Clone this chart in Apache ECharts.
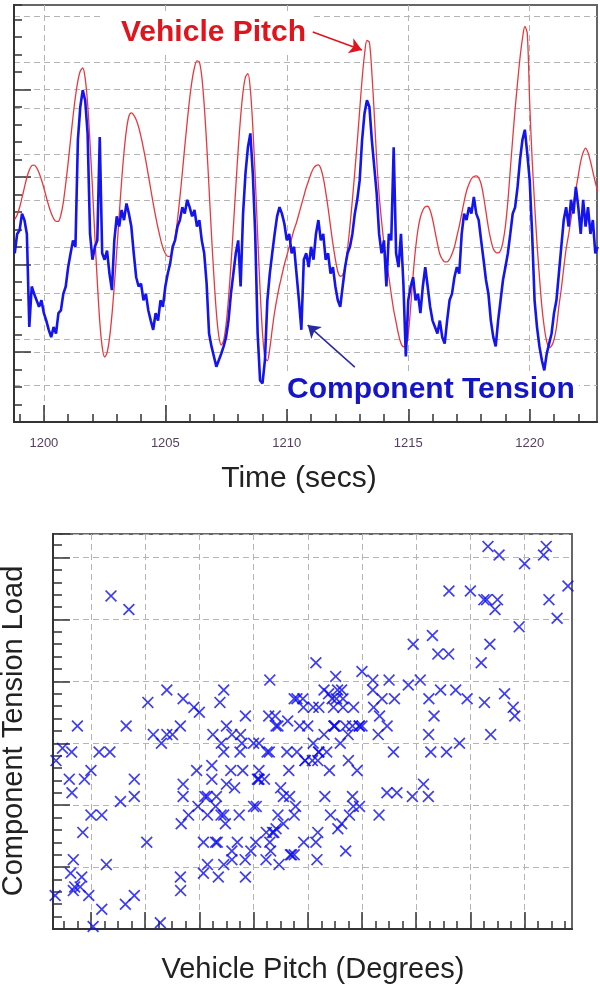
<!DOCTYPE html>
<html>
<head>
<meta charset="utf-8">
<title>Vehicle Pitch / Component Tension</title>
<script src="https://cdn.jsdelivr.net/npm/echarts@6/dist/echarts.min.js"></script>
<style>
    html, body { margin: 0; padding: 0; background: #fff; }
    #chart { width: 600px; height: 989px; }
</style>
</head>
<body>
<div id="chart"></div>
<script>
// samples start at 1198.8 s, one every 0.1 s
var timeStart = 1198.8;
var timeStep = 0.1;

// vehicle pitch (red trace)
var pitch = [
    7.58, 7.83, 8.26, 8.82, 9.41, 9.97, 10.40, 10.65, 10.68, 10.54,      // 1198.8
    10.25, 9.84, 9.37, 8.85, 8.36, 7.94, 7.63, 7.46, 7.47, 7.83,         // 1199.8
    8.55, 9.63, 10.82, 12.16, 13.46, 14.60, 15.50, 16.06, 16.23, 15.65,  // 1200.8
    14.21, 11.93, 9.37, 6.57, 4.01, 1.74, 0.29, -0.29, -0.05, 0.76,      // 1201.8
    2.09, 3.80, 5.76, 7.80, 9.77, 11.43, 12.71, 13.47, 13.66, 13.54,     // 1202.8
    13.27, 12.86, 12.29, 11.63, 10.91, 10.11, 9.30, 8.50, 7.75, 7.08,    // 1203.8
    6.47, 5.96, 5.63, 5.46, 5.46, 5.81, 6.52, 7.56, 8.84, 10.25,         // 1204.8
    11.74, 13.15, 14.46, 15.52, 16.26, 16.64, 16.58, 15.75, 14.12, 11.92, // 1205.8
    9.34, 6.70, 4.31, 2.27, 0.92, 0.40, 0.66, 1.57, 3.06, 4.95,          // 1206.8
    7.14, 9.41, 11.60, 13.45, 14.88, 15.72, 15.91, 15.00, 12.89, 10.00,  // 1207.8
    6.69, 3.56, 1.08, -0.32, -0.5, 0.2, 1.3, 2.3, 3.1, 3.8,              // 1208.8
    4.4, 5.0, 5.5, 6.0, 6.5, 7.0, 7.4, 7.9, 8.4, 8.9,                    // 1209.8
    9.4, 9.8, 10.2, 10.5, 10.65, 10.69, 10.49, 9.97, 9.17, 8.23,         // 1210.8
    7.18, 6.16, 5.29, 4.60, 4.33, 4.4, 4.9, 5.9, 7.2, 8.7,               // 1211.8
    10.3, 12.0, 13.8, 15.6, 17.0, 17.8, 17.7, 16.0, 13.6, 11.0,          // 1212.8
    9.0, 7.5, 6.2, 5.2, 4.3, 3.3, 2.4, 1.7, 1.0, 0.5,                    // 1213.8
    0.3, 0.35, 1.0, 2.6, 4.4, 5.9, 7.0, 7.7, 8.1, 8.3,                   // 1214.8
    8.33, 8.1, 7.6, 6.9, 6.2, 5.6, 5.3, 5.15, 5.15, 5.3,                 // 1215.8
    5.6, 6.0, 6.6, 7.2, 7.9, 8.6, 9.2, 9.6, 9.9, 10.03,                  // 1216.8
    10.06, 9.95, 9.6, 8.9, 8.0, 7.1, 6.4, 5.9, 5.7, 5.66,                // 1217.8
    5.8, 6.3, 7.2, 8.6, 10.4, 12.2, 13.9, 15.4, 16.8, 17.9,              // 1218.8
    18.6, 18.2, 14.2, 11.0, 8.5, 6.2, 4.3, 2.6, 1.4, 0.6,                // 1219.8
    0.25, 0.35, 0.7, 1.4, 2.6, 3.6, 4.8, 5.9, 6.7, 7.6,                  // 1220.8
    8.5, 9.3, 10.1, 10.9, 11.4, 11.65, 11.4, 10.9, 10.3, 9.7,            // 1221.8
    9.2                                                                  // 1222.8
];

// component tension (blue trace)
var tension = [
    14.3, 16.4, 16.8, 18.6, 17.9, 16.4, 6.3, 10.7, 9.9, 9.2,             // 1198.8
    8.5, 9.2, 7.8, 7.0, 6.0, 5.2, 6.3, 5.6, 7.8, 8.1,                    // 1199.8
    9.9, 10.7, 12.8, 14.3, 15.7, 15.0, 26.6, 30.2, 32.0, 30.9,           // 1200.8
    27.3, 16.4, 13.6, 15.0, 15.7, 26.9, 14.3, 13.6, 14.6, 12.1,          // 1201.8
    10.3, 15.7, 18.3, 17.2, 19.0, 17.9, 19.7, 18.6, 17.2, 14.3,          // 1202.8
    11.7, 10.7, 11.0, 9.2, 9.9, 8.1, 7.0, 6.0, 7.8, 7.0,                 // 1203.8
    9.2, 8.5, 10.7, 12.1, 13.2, 15.0, 15.7, 17.2, 17.9, 19.3,            // 1204.8
    18.6, 20.1, 19.3, 18.3, 19.0, 17.2, 17.9, 15.7, 14.3, 11.0,          // 1205.8
    5.6, 4.2, 3.1, 2.0, 2.7, 3.4, 4.2, 5.2, 7.0, 9.9,                    // 1206.8
    12.1, 14.3, 15.7, 10.7, 18.6, 23.0, 25.8, 27.3, 23.0, 16.4,          // 1207.8
    5.6, 0.5, 0.2, 2.7, 9.2, 12.1, 14.3, 16.4, 18.3, 19.3,               // 1208.8
    18.6, 17.5, 15.7, 16.4, 14.3, 15.0, 12.1, 9.2, 6.0, 13.6,            // 1209.8
    14.3, 12.8, 15.0, 13.6, 16.4, 17.9, 15.7, 16.4, 13.6, 14.3,          // 1210.8
    12.1, 12.8, 10.7, 9.2, 8.5, 10.7, 12.8, 14.3, 15.0, 16.4,            // 1211.8
    18.6, 20.1, 22.2, 26.6, 29.5, 30.9, 30.2, 26.6, 23.7, 20.8,          // 1212.8
    16.4, 14.3, 15.7, 10.7, 16.4, 15.7, 25.8, 14.3, 12.8, 16.4,          // 1213.8
    11.0, 3.1, 9.2, 10.7, 11.7, 9.2, 9.9, 7.8, 10.7, 12.8,               // 1214.8
    10.7, 8.5, 7.0, 6.3, 5.6, 7.0, 5.2, 4.5, 7.0, 9.2,                   // 1215.8
    9.9, 11.7, 12.8, 12.1, 16.4, 18.6, 17.9, 19.3, 18.6, 20.4,           // 1216.8
    18.6, 17.9, 15.7, 13.6, 11.4, 9.9, 7.0, 5.2, 4.2, 7.0,               // 1217.8
    9.2, 11.4, 12.8, 14.3, 16.4, 18.6, 19.3, 21.5, 24.4, 26.6,           // 1218.8
    27.7, 25.1, 22.2, 16.4, 9.2, 6.3, 4.2, 2.7, 1.6, 3.4,                // 1219.8
    4.5, 5.6, 7.8, 9.2, 12.1, 15.0, 17.9, 19.3, 17.2, 20.1,              // 1220.8
    18.6, 21.5, 19.3, 16.4, 20.1, 17.2, 19.3, 16.4, 17.9, 14.3,          // 1221.8
    15.0                                                                 // 1222.8
];

// tick values
var timeMajorTicks = [1200, 1205, 1210, 1215, 1220];
var timeMinorTicks = [1199, 1200, 1201, 1202, 1203, 1204, 1205, 1206, 1207, 1208, 1209, 1210,
    1211, 1212, 1213, 1214, 1215, 1216, 1217, 1218, 1219, 1220, 1221, 1222];
var pitchMajorTicks = [0, 5, 10, 15];
var tensionGridTicks = [0, 5, 10, 15, 20, 25, 30, 35, 40];
var scatterPitchMajor = [1, 3, 5, 7, 9, 11, 13, 15, 17];
var scatterPitchMinor = [0, 0.5, 1, 1.5, 2, 2.5, 3, 3.5, 4, 4.5, 5, 5.5, 6, 6.5, 7, 7.5, 8, 8.5, 9,
    9.5, 10, 10.5, 11, 11.5, 12, 12.5, 13, 13.5, 14, 14.5, 15, 15.5, 16, 16.5, 17, 17.5, 18, 18.5];

var pitchLine = [], tensionLine = [], pitchVsTension = [];
for (var i = 0; i < pitch.length; i++) {
    var t = +(timeStart + i * timeStep).toFixed(1);
    pitchLine.push([t, pitch[i]]);
    tensionLine.push([t, tension[i]]);
    pitchVsTension.push([pitch[i], tension[i]]);
}

var font = '"Liberation Sans", Arial, sans-serif';
var dashed = { color: '#b4b4b4', width: 1, type: [6, 4] };
var axisDark = { color: '#333', width: 2 };
var tickDark = { color: '#333', width: 1.5 };
// filled "x" marker, arms about 1/6 of the size
var crossMark = 'path://M1.2,0L6,4.8L10.8,0L12,1.2L7.2,6L12,10.8L10.8,12L6,7.2L1.2,12L0,10.8L4.8,6L0,1.2Z';

// helper for the extra axes that only carry minor ticks
function minorAxis(gridIndex, pos, min, max, len, extra) {
    var a = {
        gridIndex: gridIndex, type: 'value', min: min, max: max, position: pos,
        axisLine: { show: false, onZero: false },
        axisTick: { show: true, inside: true, length: len, lineStyle: tickDark },
        axisLabel: { show: false },
        splitLine: { show: false }
    };
    if (extra.interval) a.interval = extra.interval;
    if (extra.ticks) a.axisTick.customValues = extra.ticks;
    return a;
}

var myChart = echarts.init(document.getElementById('chart'));

var option = {
    animation: false,
    backgroundColor: '#fff',
    grid: [
        { left: 14, right: 3, top: 5, height: 417, show: true, borderColor: '#666', borderWidth: 2, outerBoundsMode: 'none' },
        { left: 53, right: 28, top: 534, height: 395, show: true, borderColor: '#666', borderWidth: 2, outerBoundsMode: 'none' }
    ],
    xAxis: [
        {
            gridIndex: 0, type: 'value', min: 1198.77, max: 1222.77, position: 'bottom',
            axisLine: { show: true, onZero: false, lineStyle: axisDark },
            axisTick: { show: true, inside: true, length: 17, customValues: timeMajorTicks, lineStyle: tickDark },
            axisLabel: {
                show: true, customValues: timeMajorTicks, margin: 15,
                color: '#543f5c', fontSize: 13, fontFamily: font,
                formatter: function (v) { return String(v); }
            },
            splitLine: { show: true, lineStyle: dashed }
        },
        minorAxis(0, 'bottom', 1198.77, 1222.77, 8, { ticks: timeMinorTicks }),
        {
            gridIndex: 1, type: 'value', min: -0.4, max: 18.75, position: 'bottom',
            axisLine: { show: true, onZero: false, lineStyle: axisDark },
            axisTick: { show: true, inside: true, length: 17, customValues: scatterPitchMajor, lineStyle: tickDark },
            axisLabel: { show: false },
            splitLine: { show: true, lineStyle: dashed }
        },
        minorAxis(1, 'bottom', -0.4, 18.75, 8, { ticks: scatterPitchMinor })
    ],
    yAxis: [
        {
            gridIndex: 0, type: 'value', min: -4, max: 19.83, position: 'left',
            axisLine: { show: true, onZero: false, lineStyle: axisDark },
            axisTick: { show: true, inside: true, length: 17, customValues: pitchMajorTicks, lineStyle: tickDark },
            axisLabel: { show: false },
            splitLine: { show: true, lineStyle: dashed }
        },
        minorAxis(0, 'left', -4, 19.83, 8, { interval: 1 }),
        {
            gridIndex: 0, type: 'value', min: -4, max: 41.23, position: 'right',
            axisLine: { show: false, onZero: false },
            axisTick: { show: false, customValues: tensionGridTicks },
            axisLabel: { show: false },
            splitLine: { show: true, lineStyle: dashed }
        },
        {
            gridIndex: 1, type: 'value', min: 0, max: 31.9, interval: 5, position: 'left',
            axisLine: { show: true, onZero: false, lineStyle: axisDark },
            axisTick: { show: true, inside: true, length: 17, lineStyle: tickDark },
            axisLabel: { show: false },
            splitLine: { show: true, lineStyle: dashed }
        },
        minorAxis(1, 'left', 0, 31.9, 9, { interval: 1 })
    ],
    series: [
        {
            name: 'Vehicle Pitch', type: 'line', xAxisIndex: 0, yAxisIndex: 0,
            data: pitchLine, showSymbol: false, smooth: 0.3, z: 3,
            lineStyle: { color: '#e8383e', width: 1.3 },
            markLine: {
                silent: true, symbol: ['none', 'arrow'], symbolSize: 12,
                label: { show: false },
                lineStyle: { color: '#e0141c', width: 1.5, type: 'solid' },
                data: [[{ coord: [1211.07, 18.29] }, { coord: [1213.09, 17.26] }]]
            }
        },
        {
            name: 'Component Tension', type: 'line', xAxisIndex: 0, yAxisIndex: 2,
            data: tensionLine, showSymbol: false, z: 4,
            lineStyle: { color: '#1414ee', width: 2.6 },
            markLine: {
                silent: true, symbol: ['none', 'arrow'], symbolSize: 12,
                label: { show: false },
                lineStyle: { color: '#2a2aa0', width: 1.5, type: 'solid' },
                data: [[{ coord: [1212.80, 1.95] }, { coord: [1210.86, 6.51] }]]
            }
        },
        {
            // pitch against tension, one cross per sample
            name: 'Pitch vs Tension', type: 'scatter', xAxisIndex: 2, yAxisIndex: 3,
            data: pitchVsTension, symbol: crossMark, symbolSize: 12,
            itemStyle: { color: '#0c0cf2' }
        }
    ],
    graphic: [
        {
            type: 'text', x: 103, y: 33, z: 1,
            style: {
                text: 'Vehicle Pitch', font: 'bold 30px ' + font, fill: '#e0141c',
                align: 'left', verticalAlign: 'middle', backgroundColor: '#fff', padding: [4, 6, 4, 18]
            }
        },
        {
            type: 'text', x: 283, y: 390, z: 1,
            style: {
                text: 'Component Tension', font: 'bold 30px ' + font, fill: '#1515c8',
                align: 'left', verticalAlign: 'middle', backgroundColor: '#fff', padding: [4, 4, 4, 4]
            }
        },
        {
            type: 'text', x: 299, y: 479,
            style: { text: 'Time (secs)', font: '30px ' + font, fill: '#222', align: 'center', verticalAlign: 'middle' }
        },
        {
            type: 'text', x: 313, y: 970,
            style: { text: 'Vehicle Pitch (Degrees)', font: '29px ' + font, fill: '#222', align: 'center', verticalAlign: 'middle' }
        },
        {
            type: 'text', x: 14, y: 731, rotation: Math.PI / 2,
            style: { text: 'Component Tension Load', font: '29px ' + font, fill: '#222', align: 'center', verticalAlign: 'middle' }
        }
    ]
};

myChart.setOption(option);
</script>
</body>
</html>
